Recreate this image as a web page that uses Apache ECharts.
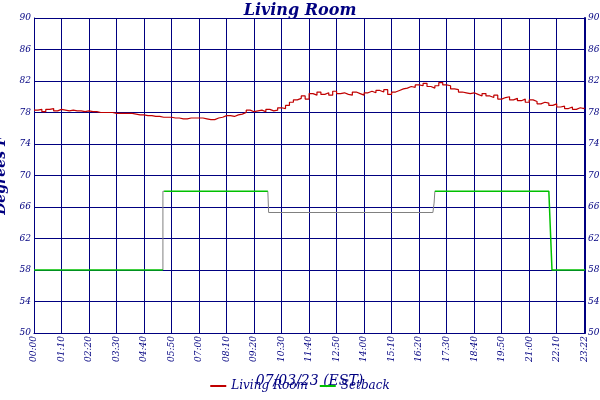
<!DOCTYPE html>
<html><head><meta charset="utf-8">
<script src="https://cdn.jsdelivr.net/npm/echarts@6/dist/echarts.min.js"></script>
<style>html,body{margin:0;padding:0;background:#fff}#c{width:600px;height:400px}</style>
</head><body><div id="c"></div>
<script>
const tempStart = 0, tempStep = 10; // minutes
const tempValues = [78.3,78.4,78.1,78.4,78.5,78.2,78.4,
78.3,78.2,78.3,78.2,78.2,78.1,
78.2,78.1,78.1,78.0,78.0,78.0,
78.0,77.9,77.9,77.9,77.9,77.9,
77.8,77.7,77.7,77.6,77.6,77.5,
77.5,77.4,77.4,77.4,77.3,77.3,
77.2,77.2,77.3,77.3,77.3,77.3,
77.2,77.1,77.1,77.3,77.4,77.6,
77.6,77.5,77.7,77.8,78.0,78.3,
78.1,78.2,78.3,78.1,78.4,78.2,
78.3,78.6,78.5,78.9,79.3,79.6,
79.8,80.1,79.7,80.4,80.2,80.6,
80.3,80.5,80.2,80.7,80.4,80.5,
80.3,80.2,80.6,80.4,80.2,80.5,
80.7,80.5,80.8,80.6,80.9,80.3,
80.6,80.8,81.0,81.1,81.3,81.2,
81.5,81.4,81.7,81.3,81.1,81.4,
81.8,81.5,81.4,81.0,80.9,80.6,
80.5,80.4,80.5,80.3,80.1,80.4,
80.1,79.9,80.2,79.7,79.9,80.0,
79.6,79.8,79.5,79.7,79.3,79.6,
79.4,79.1,79.3,79.2,78.9,79.1,
78.7,78.8,78.5,78.7,78.4,78.6,
78.5,78.6];
const setbackTimes = [0,328,null,331,595,null,1020,1310,1318,1402];
const setbackValues = [58,58,null,68,68,null,68,68,58,58];
const transTimes = [328,328,331,null,595,597,1015,1018,1020];
const transValues = [58,68,68,null,68,65.3,65.3,66.5,68];
const xTickStep = 70, xMax = 1402;

const pair = (t,v) => t.map((x,i)=> x===null ? [null,null] : [x,v[i]]);
const tempData = tempValues.map((v,i)=>[tempStart+i*tempStep, v]);
const fmt = m => { const h=Math.floor(m/60), mm=m%60; return String(h).padStart(2,'0')+':'+String(mm).padStart(2,'0'); };
const navy = '#000080';
const font = {fontFamily:'DejaVu Serif', fontStyle:'italic', color:navy};
const chart = echarts.init(document.getElementById('c'));
chart.setOption({
  animation:false,
  title:{text:'Living Room', left:'center', top:-2, textStyle:{...font, fontSize:16, fontWeight:'bold'}},
  legend:{bottom:3, itemWidth:16, itemHeight:2, itemGap:12, icon:'rect', textStyle:{...font, fontSize:12}, data:['Living Room','Setback']},
  grid:{left:34, right:15, top:18, bottom:67, containLabel:false, outerBoundsMode:'none'},
  xAxis:{type:'value', min:0, max:xMax, interval:xTickStep,
    name:'07/03/23 (EST)', nameLocation:'middle', nameGap:41, nameTextStyle:{...font, fontSize:14},
    axisLine:{lineStyle:{color:navy, width:1}}, axisTick:{show:false},
    axisLabel:{...font, fontSize:9, rotate:90, margin:3, showMaxLabel:true, formatter:v=>fmt(v)},
    splitLine:{lineStyle:{color:navy, width:1}}},
  yAxis:[{type:'value', min:50, max:90, interval:4,
    name:'Degrees F', nameLocation:'middle', nameGap:20, nameTextStyle:{...font, fontSize:14, fontWeight:'bold'},
    axisLine:{show:true, lineStyle:{color:navy}}, axisTick:{show:false},
    axisLabel:{...font, fontSize:9, margin:3},
    splitLine:{lineStyle:{color:navy, width:1}}},
   {type:'value', min:50, max:90, interval:4, position:'right',
    axisLine:{show:true, lineStyle:{color:navy, width:2}}, axisTick:{show:false},
    axisLabel:{...font, fontSize:9, margin:3}, splitLine:{show:false}}],
  series:[
    {name:'Living Room', type:'line', data:tempData, symbol:'none', step:'end', lineStyle:{color:'#c00000', width:1.2}, itemStyle:{color:'#c00000'}, z:5},
    {name:'Setback', type:'line', data:pair(setbackTimes,setbackValues), symbol:'none', connectNulls:false, lineStyle:{color:'#00c000', width:1.5}, itemStyle:{color:'#00c000'}, z:4},
    {name:'trans', type:'line', data:pair(transTimes,transValues), symbol:'none', lineStyle:{color:'#808080', width:1}, z:3}
  ]
});
</script></body></html>
